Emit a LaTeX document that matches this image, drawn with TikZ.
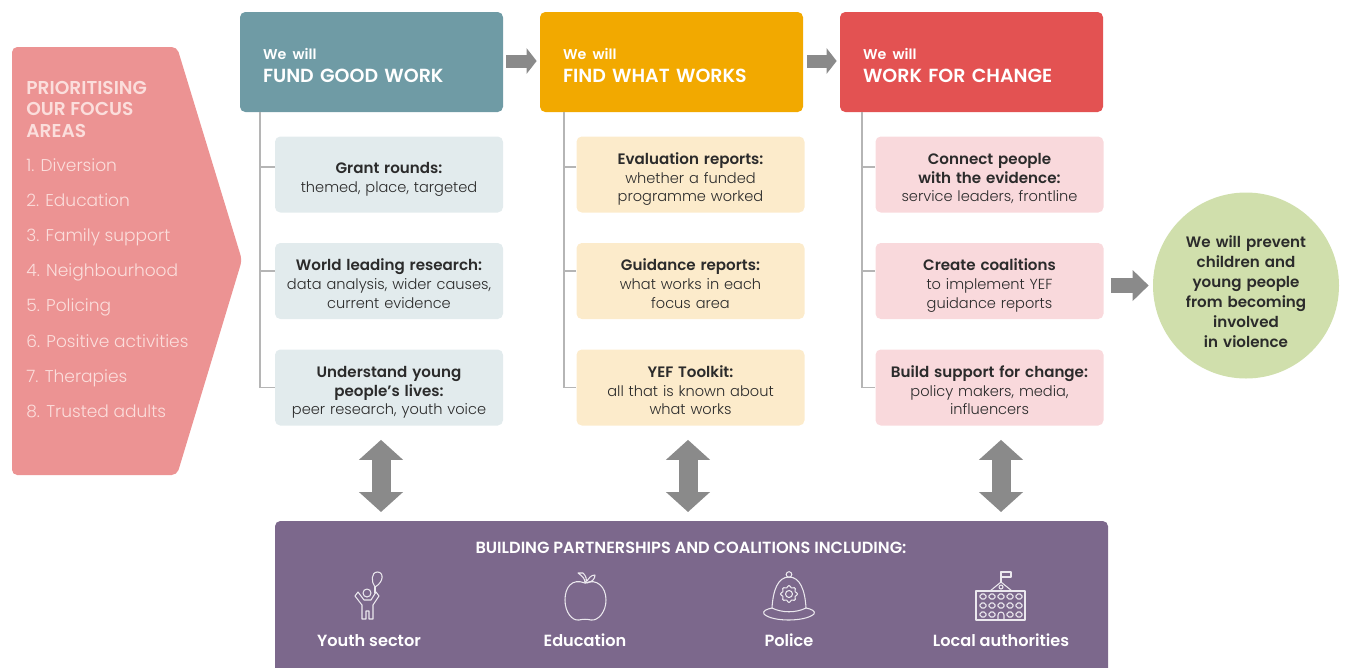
\documentclass[tikz,border=0pt]{standalone}
\usepackage{fontspec}
\setmainfont{Poppins Light}[BoldFont={Poppins SemiBold}]
\usepackage{xcolor}
\usepackage{tikz}
\usetikzlibrary{arrows.meta}

\definecolor{tealhead}{HTML}{6F9BA5}
\definecolor{amberhead}{HTML}{F2A900}
\definecolor{redhead}{HTML}{E35252}
\definecolor{tealbox}{HTML}{E2EBED}
\definecolor{amberbox}{HTML}{FCEBCB}
\definecolor{redbox}{HTML}{F9D9DC}
\definecolor{chevronfill}{HTML}{EC9393}
\definecolor{chevrontext}{HTML}{FBDEDC}
\definecolor{purplebox}{HTML}{7C688C}
\definecolor{greenend}{HTML}{D0DFAC}
\definecolor{greyarrow}{HTML}{8A8A8A}
\definecolor{greyline}{HTML}{B5B5B5}
\definecolor{inktext}{HTML}{2B2B2B}

\newcommand{\steptitle}[1]{{\fontsize{8.6}{10.65}\selectfont\bfseries #1}}

\tikzset{
  headbox/.style={rounded corners=3pt,minimum width=263*0.02cm,minimum height=100*0.02cm,
    inner xsep=23*0.02cm,inner ysep=0pt,text width=217*0.02cm,align=left,text=white,
    execute at begin node={\rule{0pt}{13.1pt}},execute at end node={\rule[-3pt]{0pt}{0pt}},
    font=\fontsize{10.8}{13}\selectfont\bfseries},
  stepbox/.style={rounded corners=3pt,minimum width=228*0.02cm,minimum height=76*0.02cm,
    inner sep=0pt,text width=228*0.02cm,align=center,text=inktext,
    execute at begin node={\rule{0pt}{12.7pt}},execute at end node={\rule[-3pt]{0pt}{0pt}},
    font=\fontsize{8.3}{10.65}\selectfont},
  tree/.style={greyline,line width=0.8pt},
  flowarrow/.style={greyarrow,line width=13*0.02cm,-{Triangle[length=10*0.02cm,width=25*0.02cm]}},
  linkarrow/.style={greyarrow,line width=19*0.02cm,{Triangle[length=20*0.02cm,width=43*0.02cm]}-{Triangle[length=20*0.02cm,width=43*0.02cm]}},
  focustext/.style={anchor=west,text=chevrontext,inner sep=0pt,text height=9.3pt,text depth=2pt,font=\fontsize{9.7}{12}\selectfont},
  partnertext/.style={text=white,inner sep=0pt,text height=9.3pt,text depth=2pt,font=\fontsize{9.2}{11}\selectfont\bfseries},
  icon/.style={white!85!purplebox,line width=0.6pt,line join=round,line cap=round}
}

\begin{document}
\begin{tikzpicture}[x=0.02cm,y=-0.02cm]
  \useasboundingbox (0,0) rectangle (1345,667);
  % Focus areas
  \fill[chevronfill,rounded corners=3pt] (12,47) -- (177,47) -- (242,260) -- (177,475) -- (12,475) -- cycle;
  \node[anchor=north west,text=chevrontext,align=left,inner sep=0pt,font=\fontsize{10.6}{12.1}\selectfont\bfseries] (focustitle) at (26,81) {PRIORITISING\\OUR FOCUS\\AREAS};
  \foreach \y/\t in {165/1. Diversion,200/2. Education,235/3. Family support,270/4. Neighbourhood,305/5. Policing,341/6. Positive activities,376/7. Therapies,411/8. Trusted adults}
    \node[focustext] (focus\y) at (26,\y) {\t};
  % Heads
  \node[headbox,fill=tealhead] (fund) at (371.5,62) {{\fontsize{8.1}{11}\selectfont We will}\\FUND GOOD WORK};
  \node[headbox,fill=amberhead] (find) at (671.5,62) {{\fontsize{8.1}{11}\selectfont We will}\\FIND WHAT WORKS};
  \node[headbox,fill=redhead] (change) at (971.5,62) {{\fontsize{8.1}{11}\selectfont We will}\\WORK FOR CHANGE};
  % Teal column
  \node[stepbox,fill=tealbox] (grants) at (389,174.5) {\steptitle{Grant rounds:}\\themed, place, targeted};
  \node[stepbox,fill=tealbox] (research) at (389,281) {\steptitle{World leading research:}\\data analysis, wider causes,\\current evidence};
  \node[stepbox,fill=tealbox] (lives) at (389,387.5) {\steptitle{Understand young}\\\steptitle{people's lives:}\\peer research, youth voice};
  % Amber column
  \node[stepbox,fill=amberbox] (evaluation) at (690.5,174.5) {\steptitle{Evaluation reports:}\\whether a funded\\programme worked};
  \node[stepbox,fill=amberbox] (guidance) at (690.5,281) {\steptitle{Guidance reports:}\\what works in each\\focus area};
  \node[stepbox,fill=amberbox] (toolkit) at (690.5,387.5) {\steptitle{YEF Toolkit:}\\all that is known about\\what works};
  % Red column
  \node[stepbox,fill=redbox] (connect) at (989.5,174.5) {\steptitle{Connect people}\\\steptitle{with the evidence:}\\service leaders, frontline};
  \node[stepbox,fill=redbox] (coalitions) at (989.5,281) {\steptitle{Create coalitions}\\to implement YEF\\guidance reports};
  \node[stepbox,fill=redbox] (support) at (989.5,387.5) {\steptitle{Build support for change:}\\policy makers, media,\\influencers};
  % Tree lines
  \coordinate (fundroot) at (260,112);
  \coordinate (findroot) at (564,112);
  \coordinate (changeroot) at (862,112);
  \coordinate (ticka) at (0,167);
  \coordinate (tickb) at (0,271);
  \draw[tree] (fundroot) |- (lives.west);
  \draw[tree] (fundroot |- tickb) -- (research.west |- tickb);
  \draw[tree] (fundroot |- ticka) -- (grants.west |- ticka);
  \draw[tree] (findroot) |- (toolkit.west);
  \draw[tree] (findroot |- tickb) -- (guidance.west |- tickb);
  \draw[tree] (findroot |- ticka) -- (evaluation.west |- ticka);
  \draw[tree] (changeroot) |- (support.west);
  \draw[tree] (changeroot |- tickb) -- (coalitions.west |- tickb);
  \draw[tree] (changeroot |- ticka) -- (connect.west |- ticka);
  % Outcome
  \node[circle,fill=greenend,minimum size=186*0.02cm,text width=122*0.02cm,align=center,text=inktext,inner sep=0pt,
    execute at begin node={\rule{0pt}{16.8pt}},execute at end node={\rule[-3pt]{0pt}{0pt}},
    font=\fontsize{8.6}{11.4}\selectfont\bfseries] (outcome) at (1246,285.5) {We will prevent\\children and\\young people\\from becoming\\involved\\in violence};
  % Arrows
  \draw[flowarrow,shorten <=3*0.02cm,shorten >=3*0.02cm] ([yshift=0.02cm]fund.east) -- ([yshift=0.02cm]find.west);
  \draw[flowarrow,shorten <=4*0.02cm,shorten >=3*0.02cm] ([yshift=0.02cm]find.east) -- ([yshift=0.02cm]change.west);
  \draw[greyarrow,line width=15*0.02cm,-{Triangle[length=16*0.02cm,width=30*0.02cm]},shorten <=7*0.02cm,shorten >=4*0.02cm] (coalitions.east |- outcome.west) -- (outcome.west);
  % Partnerships
  \fill[purplebox,rounded corners=3pt] (275,521) rectangle (1108,680);
  \coordinate (partners) at (691,521);
  \coordinate (linka) at (381,0);
  \coordinate (linkb) at (688,0);
  \coordinate (linkc) at (1001,0);
  \draw[linkarrow,shorten <=14*0.02cm,shorten >=9*0.02cm] (lives.south -| linka) -- (partners -| linka);
  \draw[linkarrow,shorten <=14*0.02cm,shorten >=9*0.02cm] (toolkit.south -| linkb) -- (partners -| linkb);
  \draw[linkarrow,shorten <=14*0.02cm,shorten >=9*0.02cm] (support.south -| linkc) -- (partners -| linkc);
  \node[text=white,font=\fontsize{9.2}{10}\selectfont\bfseries] (partnertitle) at (691,548) {BUILDING PARTNERSHIPS AND COALITIONS INCLUDING:};
  \node[partnertext] (youth) at (369,640) {Youth sector};
  \node[partnertext] (education) at (585,640) {Education};
  \node[partnertext] (police) at (789,640) {Police};
  \node[partnertext] (local) at (1001,640) {Local authorities};
  % Icons
  \begin{scope}[icon]
    % child with balloon
    \draw (367,593) circle (4);
    \draw (358,592) -- (355,596) -- (362,605) -- (362,619) -- (366,619) -- (366,611) -- (369,611) -- (369,619) -- (373,619) -- (373,605) -- (379,596) -- (376,592) -- (371,600) -- (364,600) -- cycle;
    \draw (375,587) .. controls (371,582) and (371,572) .. (377.5,572) .. controls (384,572) and (384,582) .. (375,587);
    \draw (375,587) -- (375,593);
    % apple
    \draw (585,583) .. controls (572,578) and (565,587) .. (565,600) .. controls (565,612) and (572,621) .. (579,620) .. controls (583,619) and (587,619) .. (591,620) .. controls (598,621) and (606,612) .. (606,600) .. controls (606,587) and (597,578) .. (585,583);
    \draw (585,583) .. controls (585,578) and (582,576) .. (578,573) -- (583,573) .. controls (586,576) and (587,579) .. (586,583);
    \draw (587,581) .. controls (589,578) and (591,575) .. (595,575) .. controls (595,579) and (592,582) .. (587,583);
    % helmet
    \draw (772,608) .. controls (773,590) and (778,577) .. (789,577) .. controls (800,577) and (805,590) .. (806,608);
    \draw (789,574.5) circle (2.8);
    \draw (772,608) .. controls (767,609) and (762,611) .. (764,614) .. controls (772,622) and (805,622) .. (814,614) .. controls (816,611) and (811,609) .. (806,608);
    \draw (772,608) .. controls (782,613) and (796,613) .. (806,608);
    \draw (789,594) circle (3.5);
    \draw[domain=0:350,samples=36,smooth] plot ({789+(7.5+cos(8*\x))*cos(\x)},{594+(7.5+cos(8*\x))*sin(\x)}) -- cycle;
    % building
    \draw (976,620) rectangle (1025,591);
    \draw (990,591) -- (1001,582) -- (1012,591);
    \draw (1001,582) -- (1001,572);
    \draw (1001,572) rectangle (1011,577);
    \draw (1001,587) circle (2);
    \foreach \row in {594,603}
      \foreach \col in {980,989,998,1007,1016}
        \draw[rounded corners=1pt] (\col,\row) rectangle ++(6,5);
    \foreach \col in {980,989,1007,1016}
      \draw[rounded corners=1pt] (\col,612) rectangle ++(6,5);
    \draw (998,620) -- (998,615) .. controls (998,611) and (1004,611) .. (1004,615) -- (1004,620);
  \end{scope}
\end{tikzpicture}
\end{document}
